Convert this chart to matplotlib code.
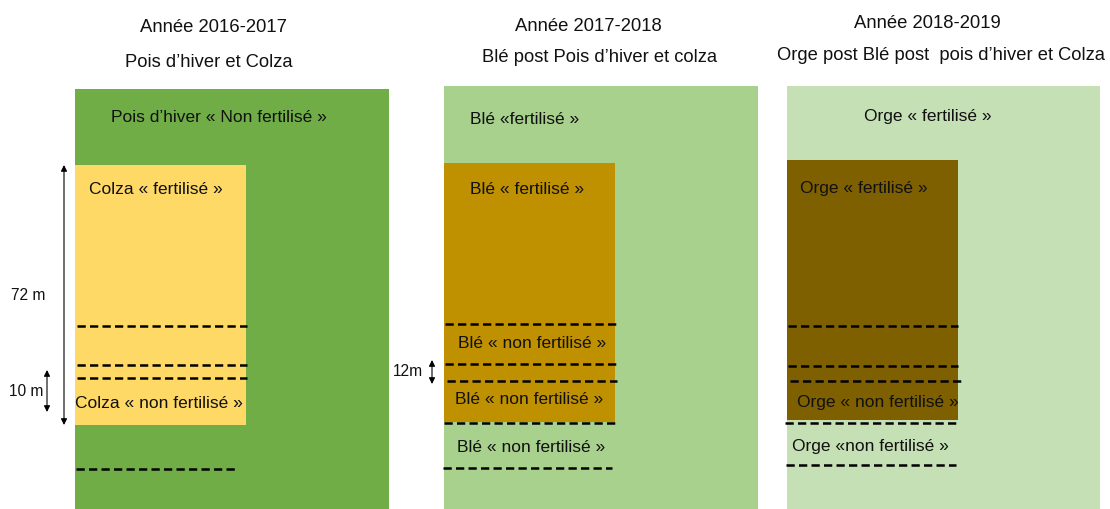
import matplotlib.pyplot as plt
from matplotlib.patches import Rectangle

plt.rcParams['font.family'] = ['Liberation Sans', 'DejaVu Sans']

# layout of the three yearly field plans (pixel units of the original picture)
years = ['Année 2016-2017', 'Année 2017-2018', 'Année 2018-2019']
subtitles = ['Pois d\u2019hiver et Colza', 'Blé post Pois d\u2019hiver et colza',
             'Orge post Blé post  pois d\u2019hiver et Colza']
title_x = [213, 588, 927]
title_y = [27, 26, 23]
subtitle_x = [209, 600, 941]
subtitle_y = [62, 57, 55]

field_left = [75, 444, 787]
field_right = [389, 758, 1100]
field_top = [89, 86, 86]
field_colors = ['#70AD47', '#A9D18E', '#C5E0B4']

plot_left = [75, 444, 787]
plot_right = [246, 615, 958]
plot_top = [165, 163, 160]
plot_bottom = [425, 422, 420]
plot_colors = ['#FFD966', '#BF9000', '#7F6000']

# dashed separation lines: (y, x start, x end)
dashes = [
    [(326, 77, 247), (365, 77, 247), (378, 77, 247), (469, 76, 235)],
    [(324, 445, 616), (364, 445, 616), (381, 447, 617), (423, 444, 615), (468, 443, 612)],
    [(326, 788, 958), (366, 788, 958), (381, 790, 961), (423, 785, 956), (465, 786, 956)],
]

# crop labels: (text, x, y, ha)
labels = [
    [('Pois d\u2019hiver « Non fertilisé »', 111, 117, 'left'),
     ('Colza « fertilisé »', 89, 189, 'left'),
     ('Colza « non fertilisé »', 75, 404, 'left')],
    [('Blé «fertilisé »', 470, 119, 'left'),
     ('Blé « fertilisé »', 470, 189, 'left'),
     ('Blé « non fertilisé »', 458, 344, 'left'),
     ('Blé « non fertilisé »', 455, 400, 'left'),
     ('Blé « non fertilisé »', 457, 447, 'left')],
    [('Orge « fertilisé »', 928, 116, 'center'),
     ('Orge « fertilisé »', 800, 189, 'left'),
     ('Orge « non fertilisé »', 797, 403, 'left'),
     ('Orge «non fertilisé »', 792, 447, 'left')],
]

# dimension arrows: (x, y top, y bottom, label, label x)
dims = [(64, 165, 425, '72 m', 28), (47, 370, 412, '10 m', 26), (432, 360, 384, '12m', 408)]

fig = plt.figure(figsize=(11.1, 5.09), dpi=100)
ax = fig.add_axes([0, 0, 1, 1])
ax.set_xlim(0, 1110)
ax.set_ylim(509, 0)
ax.axis('off')

for i in range(3):
    ax.add_patch(Rectangle((field_left[i], field_top[i]), field_right[i] - field_left[i],
                           509 - field_top[i], color=field_colors[i], lw=0))
    ax.add_patch(Rectangle((plot_left[i], plot_top[i]), plot_right[i] - plot_left[i],
                           plot_bottom[i] - plot_top[i], color=plot_colors[i], lw=0))
    ax.text(title_x[i], title_y[i], years[i], ha='center', va='center', fontsize=13.3, color='#111111')
    ax.text(subtitle_x[i], subtitle_y[i], subtitles[i], ha='center', va='center', fontsize=13.2, color='#111111')
    for y, x0, x1 in dashes[i]:
        ax.plot([x0, x1], [y, y], color='black', lw=1.8, linestyle=(0, (3.3, 1.7)), solid_capstyle='butt')
    for txt, x, y, ha in labels[i]:
        ax.text(x, y, txt, ha=ha, va='center', fontsize=12.5, color='#111111')

for x, y0, y1, lab, lx in dims:
    ax.annotate('', xy=(x, y0), xytext=(x, y1),
                arrowprops=dict(arrowstyle='<|-|>', color='black', lw=0.8,
                                mutation_scale=9, shrinkA=0, shrinkB=0))
    ax.text(lx, (y0 + y1) / 2, lab, ha='center', va='center', fontsize=11.2, color='#111111')

fig.savefig('out.png', dpi=100)
